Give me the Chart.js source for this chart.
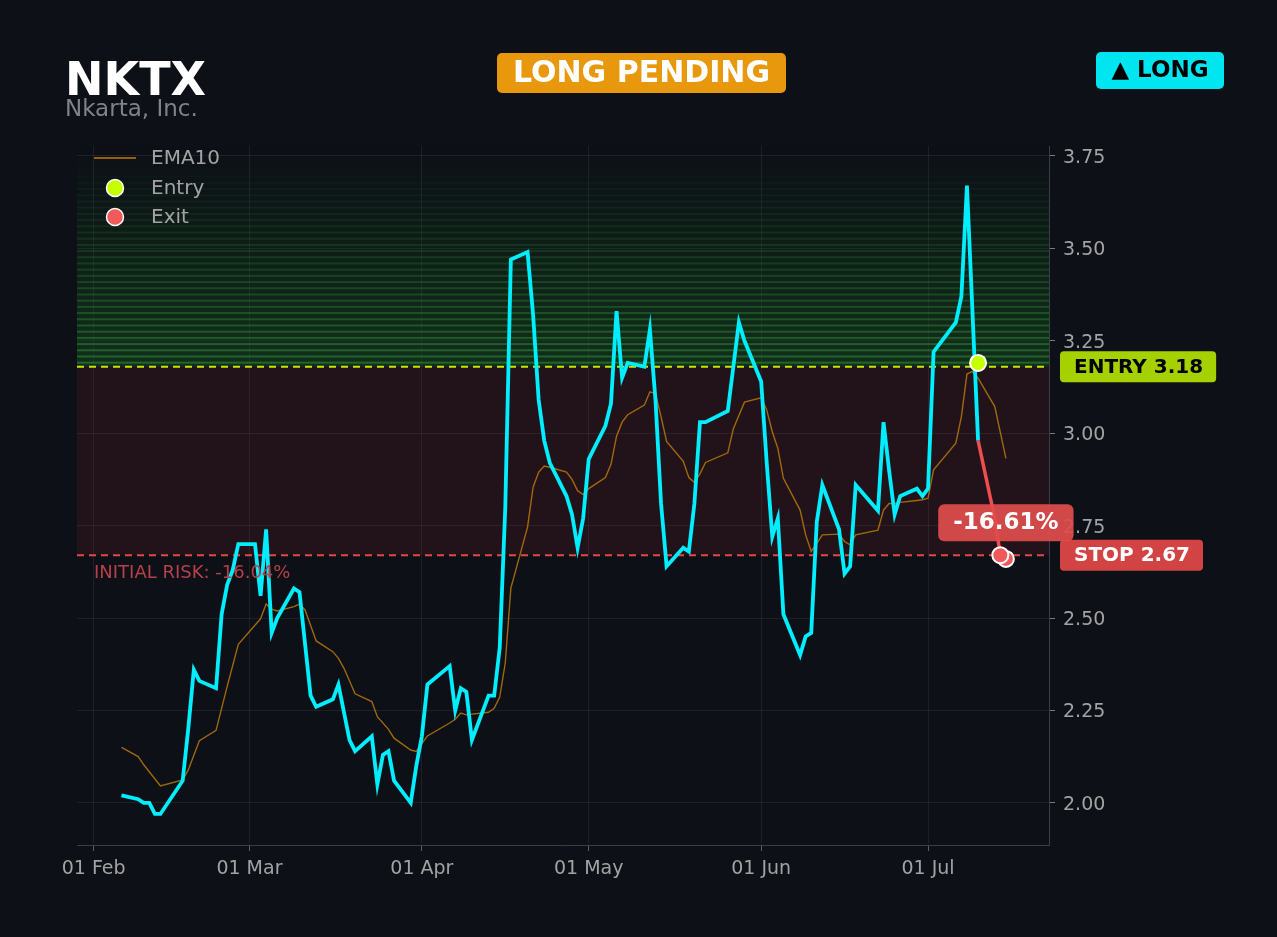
<!DOCTYPE html>
<html>
<head>
<meta charset="utf-8">
<title>NKTX</title>
<script src="https://cdn.jsdelivr.net/npm/chart.js@4.4.1/dist/chart.umd.min.js"></script>
<style>
  html, body { margin: 0; padding: 0; background: #0d1017; }
  #wrap { position: absolute; left: 0; top: 0; width: 1277px; height: 937px; }
</style>
</head>
<body>
<div id="wrap"><canvas id="lineChart"></canvas></div>
<script>
// price (close)
var priceDates = [
  '2026-02-06','2026-02-09','2026-02-10','2026-02-11','2026-02-12','2026-02-13',
  '2026-02-17','2026-02-18','2026-02-19','2026-02-20','2026-02-23','2026-02-24',
  '2026-02-25','2026-02-26','2026-02-27','2026-03-02','2026-03-03','2026-03-04',
  '2026-03-05','2026-03-06','2026-03-09','2026-03-10','2026-03-12','2026-03-13',
  '2026-03-16','2026-03-17','2026-03-19','2026-03-20','2026-03-23','2026-03-24',
  '2026-03-25','2026-03-26','2026-03-27','2026-03-30','2026-03-31','2026-04-01',
  '2026-04-02','2026-04-06','2026-04-07','2026-04-08','2026-04-09','2026-04-10',
  '2026-04-13','2026-04-14','2026-04-15','2026-04-16','2026-04-17','2026-04-20',
  '2026-04-21','2026-04-22','2026-04-23','2026-04-24','2026-04-27','2026-04-28',
  '2026-04-29','2026-04-30','2026-05-01','2026-05-04','2026-05-05','2026-05-06',
  '2026-05-07','2026-05-08','2026-05-11','2026-05-12','2026-05-13','2026-05-14',
  '2026-05-15','2026-05-18','2026-05-19','2026-05-20','2026-05-21','2026-05-22',
  '2026-05-26','2026-05-28','2026-05-29','2026-06-01','2026-06-02','2026-06-03',
  '2026-06-04','2026-06-05','2026-06-08','2026-06-09','2026-06-10','2026-06-11',
  '2026-06-12','2026-06-15','2026-06-16','2026-06-17','2026-06-18','2026-06-22',
  '2026-06-23','2026-06-24','2026-06-25','2026-06-26','2026-06-29','2026-06-30',
  '2026-07-01','2026-07-02','2026-07-06','2026-07-07','2026-07-08','2026-07-10'
];
var priceValues = [
  2.02, 2.01, 2.00, 2.00, 1.97, 1.97,
  2.06, 2.20, 2.36, 2.33, 2.31, 2.51,
  2.59, 2.63, 2.70, 2.70, 2.56, 2.74,
  2.46, 2.50, 2.58, 2.57, 2.29, 2.26,
  2.28, 2.32, 2.17, 2.14, 2.18, 2.05,
  2.13, 2.14, 2.06, 2.00, 2.10, 2.18,
  2.32, 2.37, 2.25, 2.31, 2.30, 2.17,
  2.29, 2.29, 2.42, 2.80, 3.47, 3.49,
  3.32, 3.09, 2.98, 2.92, 2.83, 2.78,
  2.69, 2.77, 2.93, 3.02, 3.08, 3.33,
  3.15, 3.19, 3.18, 3.28, 3.09, 2.81,
  2.64, 2.69, 2.68, 2.81, 3.03, 3.03,
  3.06, 3.30, 3.25, 3.14, 2.92, 2.72,
  2.77, 2.51, 2.40, 2.45, 2.46, 2.76,
  2.86, 2.74, 2.62, 2.64, 2.86, 2.79,
  3.03, 2.90, 2.78, 2.83, 2.85, 2.83,
  2.85, 3.22, 3.30, 3.37, 3.67, 2.98
];

var emaDates = [
  '2026-02-06','2026-02-09','2026-02-10','2026-02-13','2026-02-17','2026-02-18',
  '2026-02-20','2026-02-23','2026-02-25','2026-02-27','2026-03-03','2026-03-04',
  '2026-03-05','2026-03-06','2026-03-09','2026-03-10','2026-03-11','2026-03-13',
  '2026-03-16','2026-03-17','2026-03-18','2026-03-20','2026-03-23','2026-03-24',
  '2026-03-26','2026-03-27','2026-03-30','2026-03-31','2026-04-02','2026-04-06',
  '2026-04-07','2026-04-08','2026-04-09','2026-04-10','2026-04-13','2026-04-14',
  '2026-04-15','2026-04-16','2026-04-17','2026-04-20','2026-04-21','2026-04-22',
  '2026-04-23','2026-04-24','2026-04-27','2026-04-28','2026-04-29','2026-04-30',
  '2026-05-01','2026-05-04','2026-05-05','2026-05-06','2026-05-07','2026-05-08',
  '2026-05-11','2026-05-12','2026-05-13','2026-05-14','2026-05-15','2026-05-18',
  '2026-05-19','2026-05-20','2026-05-21','2026-05-22','2026-05-26','2026-05-27',
  '2026-05-29','2026-06-01','2026-06-02','2026-06-03','2026-06-04','2026-06-05',
  '2026-06-08','2026-06-09','2026-06-10','2026-06-11','2026-06-12','2026-06-15',
  '2026-06-16','2026-06-17','2026-06-18','2026-06-22','2026-06-23','2026-06-24',
  '2026-06-25','2026-06-26','2026-06-29','2026-06-30','2026-07-01','2026-07-02',
  '2026-07-06','2026-07-07','2026-07-08','2026-07-09','2026-07-10','2026-07-13',
  '2026-07-15'
];
var emaValues = [
  2.150, 2.125, 2.103, 2.046, 2.062, 2.089,
  2.168, 2.196, 2.315, 2.429, 2.498, 2.538,
  2.524, 2.519, 2.531, 2.538, 2.522, 2.438,
  2.409, 2.391, 2.364, 2.295, 2.274, 2.233,
  2.199, 2.175, 2.143, 2.139, 2.181, 2.216,
  2.226, 2.243, 2.238, 2.240, 2.245, 2.256,
  2.286, 2.379, 2.581, 2.746, 2.854, 2.895,
  2.911, 2.908, 2.895, 2.875, 2.844, 2.834,
  2.850, 2.880, 2.916, 2.992, 3.030, 3.050,
  3.076, 3.112, 3.107, 3.045, 2.978, 2.924,
  2.880, 2.867, 2.890, 2.921, 2.947, 3.012,
  3.084, 3.096, 3.063, 3.004, 2.959, 2.878,
  2.792, 2.725, 2.680, 2.702, 2.725, 2.727,
  2.707, 2.698, 2.725, 2.738, 2.792, 2.810,
  2.810, 2.813, 2.818, 2.820, 2.824, 2.901,
  2.973, 3.045, 3.160, 3.167, 3.149, 3.072,
  2.932
];

// path after the entry, down to the stop
var tradeDates = ['2026-07-10', '2026-07-13', '2026-07-14'];
var tradeValues = [2.98, 2.77, 2.67];

var entryDates = ['2026-07-10'];
var entryValues = [3.19];
var exitDates = ['2026-07-15', '2026-07-14'];
var exitValues = [2.66, 2.67];

var entryPrice = 3.18;
var stopPrice = 2.67;

var monthTicks = ['2026-02-01','2026-03-01','2026-04-01','2026-05-01','2026-06-01','2026-07-01'];
var yTicks = [2.00, 2.25, 2.50, 2.75, 3.00, 3.25, 3.50, 3.75];
var monthNames = ['Jan','Feb','Mar','Apr','May','Jun','Jul','Aug','Sep','Oct','Nov','Dec'];

function toTime(s) {
  var p = s.split('-');
  return Date.UTC(+p[0], +p[1] - 1, +p[2]);
}
function points(dates, values) {
  return dates.map(function(d, i) { return {x: toTime(d), y: values[i]}; });
}

var FONT = '"DejaVu Sans"';
Chart.defaults.font.family = FONT;

function badge(ctx, x, y, w, h, r, fill) {
  ctx.fillStyle = fill;
  ctx.beginPath();
  ctx.roundRect(x, y, w, h, r);
  ctx.fill();
}

// shaded zones and level lines, under the series
var zones = {
  id: 'zones',
  beforeDatasetsDraw: function(chart) {
    var ctx = chart.ctx, a = chart.chartArea, y = chart.scales.y;
    var yE = y.getPixelForValue(entryPrice), yS = y.getPixelForValue(stopPrice);
    var w = a.right - a.left;
    ctx.save();
    ctx.fillStyle = 'rgba(150,40,45,0.16)';
    ctx.fillRect(a.left, yE, w, yS - yE);

    // green target zone: stripes fading towards the top
    var h = yE - a.top;
    var g = ctx.createLinearGradient(0, yE, 0, a.top);
    g.addColorStop(0, 'rgba(20,80,30,0.5)');
    g.addColorStop(0.8, 'rgba(20,80,30,0.08)');
    g.addColorStop(1, 'rgba(20,80,30,0)');
    ctx.fillStyle = g;
    ctx.fillRect(a.left, a.top, w, h);
    for (var yy = yE - 4; yy > a.top; yy -= 6.2) {
      var t = (yE - yy) / h;
      var al = 0.6 * Math.pow(Math.max(0, 1 - t), 1.3);
      ctx.fillStyle = 'rgba(50,140,55,' + al.toFixed(3) + ')';
      ctx.fillRect(a.left, yy - 1, w, 2);
    }

    ctx.lineWidth = 2;
    ctx.setLineDash([7, 5]);
    ctx.strokeStyle = '#c8e600';
    ctx.beginPath(); ctx.moveTo(a.left, yE); ctx.lineTo(a.right, yE); ctx.stroke();
    ctx.strokeStyle = '#e04a4a';
    ctx.beginPath(); ctx.moveTo(a.left, yS); ctx.lineTo(a.right, yS); ctx.stroke();
    ctx.restore();
  },
  afterDraw: function(chart) {
    var ctx = chart.ctx, a = chart.chartArea, y = chart.scales.y, x = chart.scales.x;
    var yE = y.getPixelForValue(entryPrice), yS = y.getPixelForValue(stopPrice);
    ctx.save();

    // header
    ctx.textBaseline = 'alphabetic';
    ctx.fillStyle = '#ffffff';
    ctx.font = 'bold 46px ' + FONT;
    ctx.fillText('NKTX', 65, 95);
    ctx.fillStyle = '#7f8389';
    ctx.font = '23px ' + FONT;
    ctx.fillText('Nkarta, Inc.', 65, 116);

    ctx.textBaseline = 'middle';
    ctx.textAlign = 'center';
    badge(ctx, 497, 53, 289, 40, 5, '#e8980c');
    ctx.fillStyle = '#ffffff';
    ctx.font = 'bold 30px ' + FONT;
    ctx.fillText('LONG PENDING', 641.5, 74);

    badge(ctx, 1096, 52, 128, 37, 5, '#00e5f0');
    ctx.fillStyle = '#000000';
    ctx.font = 'bold 23px ' + FONT;
    ctx.fillText('\u25B2 LONG', 1160, 71);

    // level badges
    ctx.textAlign = 'left';
    ctx.font = 'bold 20px ' + FONT;
    var tw = ctx.measureText('ENTRY 3.18').width;
    badge(ctx, a.right + 11, yE - 15.5, tw + 27, 31, 4, '#a6d100');
    ctx.fillStyle = '#000000';
    ctx.fillText('ENTRY 3.18', a.right + 25, yE + 1);
    tw = ctx.measureText('STOP 2.67').width;
    badge(ctx, a.right + 11, yS - 15.5, tw + 27, 31, 4, '#d24444');
    ctx.fillStyle = '#ffffff';
    ctx.fillText('STOP 2.67', a.right + 25, yS + 1);

    ctx.font = '18px ' + FONT;
    ctx.fillStyle = '#b8404a';
    ctx.textBaseline = 'alphabetic';
    ctx.fillText('INITIAL RISK: -16.04%', a.left + 17, yS + 23);

    // result badge above the exit
    var ex = x.getPixelForValue(toTime(exitDates[0]));
    var ey = y.getPixelForValue(exitValues[1]);
    ctx.font = 'bold 23px ' + FONT;
    tw = ctx.measureText('-16.61%').width;
    badge(ctx, ex - tw / 2 - 15, ey - 51, tw + 30, 37, 6, 'rgba(224,76,76,0.93)');
    ctx.fillStyle = '#ffffff';
    ctx.textAlign = 'center';
    ctx.textBaseline = 'middle';
    ctx.fillText('-16.61%', ex, ey - 32);

    // legend
    ctx.textAlign = 'left';
    ctx.font = '20px ' + FONT;
    ctx.fillStyle = '#a3a3a3';
    ctx.strokeStyle = '#94600e';
    ctx.lineWidth = 2;
    ctx.beginPath(); ctx.moveTo(a.left + 17, a.top + 12); ctx.lineTo(a.left + 59, a.top + 12); ctx.stroke();
    ctx.fillText('EMA10', a.left + 74, a.top + 13);
    [['Entry', '#c6ff00', 42], ['Exit', '#f05a5a', 71]].forEach(function(it) {
      ctx.beginPath();
      ctx.arc(a.left + 38, a.top + it[2], 8.5, 0, Math.PI * 2);
      ctx.fillStyle = it[1];
      ctx.fill();
      ctx.strokeStyle = '#ffffff';
      ctx.lineWidth = 1.5;
      ctx.stroke();
      ctx.fillStyle = '#a3a3a3';
      ctx.fillText(it[0], a.left + 74, a.top + it[2] + 1);
    });
    ctx.restore();
  }
};

var ctx = document.getElementById('lineChart');
new Chart(ctx, {
  type: 'line',
  data: {
    datasets: [
      { label: 'Exit', data: points(exitDates, exitValues), showLine: false,
        pointRadius: 8, pointBackgroundColor: '#f05a5a', pointBorderColor: '#ffffff', pointBorderWidth: 2 },
      { label: 'Entry', data: points(entryDates, entryValues), showLine: false,
        pointRadius: 8, pointBackgroundColor: '#c6ff00', pointBorderColor: '#ffffff', pointBorderWidth: 2 },
      { label: 'Trade', data: points(tradeDates, tradeValues), borderColor: '#f04e4e',
        borderWidth: 3.5, pointRadius: 0, tension: 0 },
      { label: 'Price', data: points(priceDates, priceValues), borderColor: '#00eeff',
        borderWidth: 3.8, pointRadius: 0, tension: 0 },
      { label: 'EMA10', data: points(emaDates, emaValues), borderColor: 'rgba(184,120,10,0.85)',
        borderWidth: 1.4, pointRadius: 0, tension: 0 }
    ]
  },
  options: {
    responsive: true,
    maintainAspectRatio: false,
    animation: false,
    events: [],
    layout: { padding: { left: 77, top: 146, right: 0, bottom: 0 } },
    plugins: { legend: { display: false }, tooltip: { enabled: false } },
    scales: {
      x: {
        type: 'linear',
        min: Date.UTC(2026, 0, 29),
        max: Date.UTC(2026, 6, 22, 18),
        afterBuildTicks: function(s) { s.ticks = monthTicks.map(function(m) { return {value: toTime(m)}; }); },
        afterFit: function(s) { s.height = 92; },
        ticks: {
          color: '#a3a3a3', font: { size: 19 }, padding: 7, maxRotation: 0, autoSkip: false,
          callback: function(v) { return '01 ' + monthNames[new Date(v).getUTCMonth()]; }
        },
        grid: { color: 'rgba(255,255,255,0.07)', tickColor: '#5a5f66', tickLength: 6 },
        border: { color: '#3a3f47' }
      },
      y: {
        position: 'right',
        min: 1.886,
        max: 3.777,
        afterBuildTicks: function(s) { s.ticks = yTicks.map(function(v) { return {value: v}; }); },
        afterFit: function(s) { s.width = 228; },
        ticks: {
          color: '#a3a3a3', font: { size: 19 }, padding: 8, labelOffset: 2,
          callback: function(v) { return v.toFixed(2); }
        },
        grid: { color: 'rgba(255,255,255,0.07)', tickColor: '#7a7a7a', tickLength: 6 },
        border: { color: '#3a3f47' }
      }
    }
  },
  plugins: [zones]
});
</script>
</body>
</html>
